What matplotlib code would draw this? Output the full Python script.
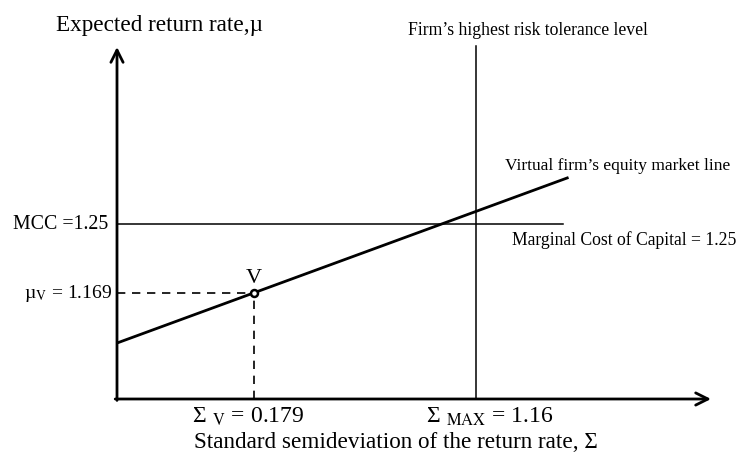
import matplotlib; matplotlib.use("Agg")
import matplotlib.pyplot as plt

plt.rcParams['font.family'] = ['Liberation Serif', 'DejaVu Serif']
plt.rcParams['mathtext.fontset'] = 'stix'

# schematic values (labels) and their positions on the sketch axes (0..1)
sigma_v, sigma_max = 0.179, 1.16
mcc, mu_v = 1.25, 1.169
sigma_v_pos, sigma_max_pos = 0.231, 0.604
mcc_pos, mu_v_pos = 0.497, 0.300
eml_x = [0.0, 0.758]
eml_y = [0.159, 0.628]
mcc_line_end = 0.751
risk_top = 1.003

fig = plt.figure(figsize=(7.36, 4.59), dpi=100)
ax = fig.add_axes([117/736, 60/459, 594/736, 352/459])
ax.set_xlim(0, 1)
ax.set_ylim(0, 1)
ax.axis('off')

# axes as arrows
arw = dict(arrowstyle='->', lw=2.0, color='black', mutation_scale=22, shrinkA=0, shrinkB=0)
ax.annotate('', xy=(1.0, 0), xytext=(-0.003, 0), arrowprops=arw, annotation_clip=False)
ax.annotate('', xy=(0, 1.0), xytext=(0, -0.004), arrowprops=arw, annotation_clip=False)

# MCC line, risk tolerance line, equity market line
ax.plot([0, mcc_line_end], [mcc_pos, mcc_pos], color='black', lw=1.1)
ax.plot([sigma_max_pos, sigma_max_pos], [0, risk_top], color='black', lw=1.1, clip_on=False)
ax.plot(eml_x, eml_y, color='black', lw=2.0)

# point V with dashed guides
ax.plot([0, sigma_v_pos], [mu_v_pos, mu_v_pos], color='black', lw=1.2, dashes=(5, 4))
ax.plot([sigma_v_pos, sigma_v_pos], [0, mu_v_pos], color='black', lw=1.2, dashes=(5, 4))
ax.plot(sigma_v_pos, mu_v_pos, 'o', ms=5, mfc='white', mec='black', mew=1.8)
ax.text(sigma_v_pos, mu_v_pos + 0.043, 'V', ha='center', va='center', fontsize=16)

# labels
kw = dict(clip_on=False)
ax.text(0.071, 1.062, 'Expected return rate,µ', ha='center', va='center', fontsize=16.7, **kw)
ax.text(0.490, 1.048, "Firm’s highest risk tolerance level", ha='left', va='center', fontsize=12.7, **kw)
ax.text(0.653, 0.662, "Virtual firm’s equity market line", ha='left', va='center', fontsize=12.5, **kw)
ax.text(0.665, 0.452, 'Marginal Cost of Capital = %.2f' % mcc, ha='left', va='center', fontsize=12.7, **kw)
ax.text(-0.015, mcc_pos, 'MCC =%.2f' % mcc, ha='right', va='center', fontsize=14.3, **kw)
ax.text(-0.008, mu_v_pos, r'µ$_{\mathrm{V}}$ = %.3f' % mu_v, ha='right', va='center', fontsize=14, **kw)
ax.text(0.221, -0.05, r'Σ $_{\mathrm{V}}$ = %.3f' % sigma_v, ha='center', va='center', fontsize=17, **kw)
ax.text(0.628, -0.05, r'Σ $_{\mathrm{MAX}}$ = %.2f' % sigma_max, ha='center', va='center', fontsize=17, **kw)
ax.text(0.470, -0.125, 'Standard semideviation of the return rate, Σ', ha='center', va='center', fontsize=16.7, **kw)

fig.savefig('out.png', dpi=100)
